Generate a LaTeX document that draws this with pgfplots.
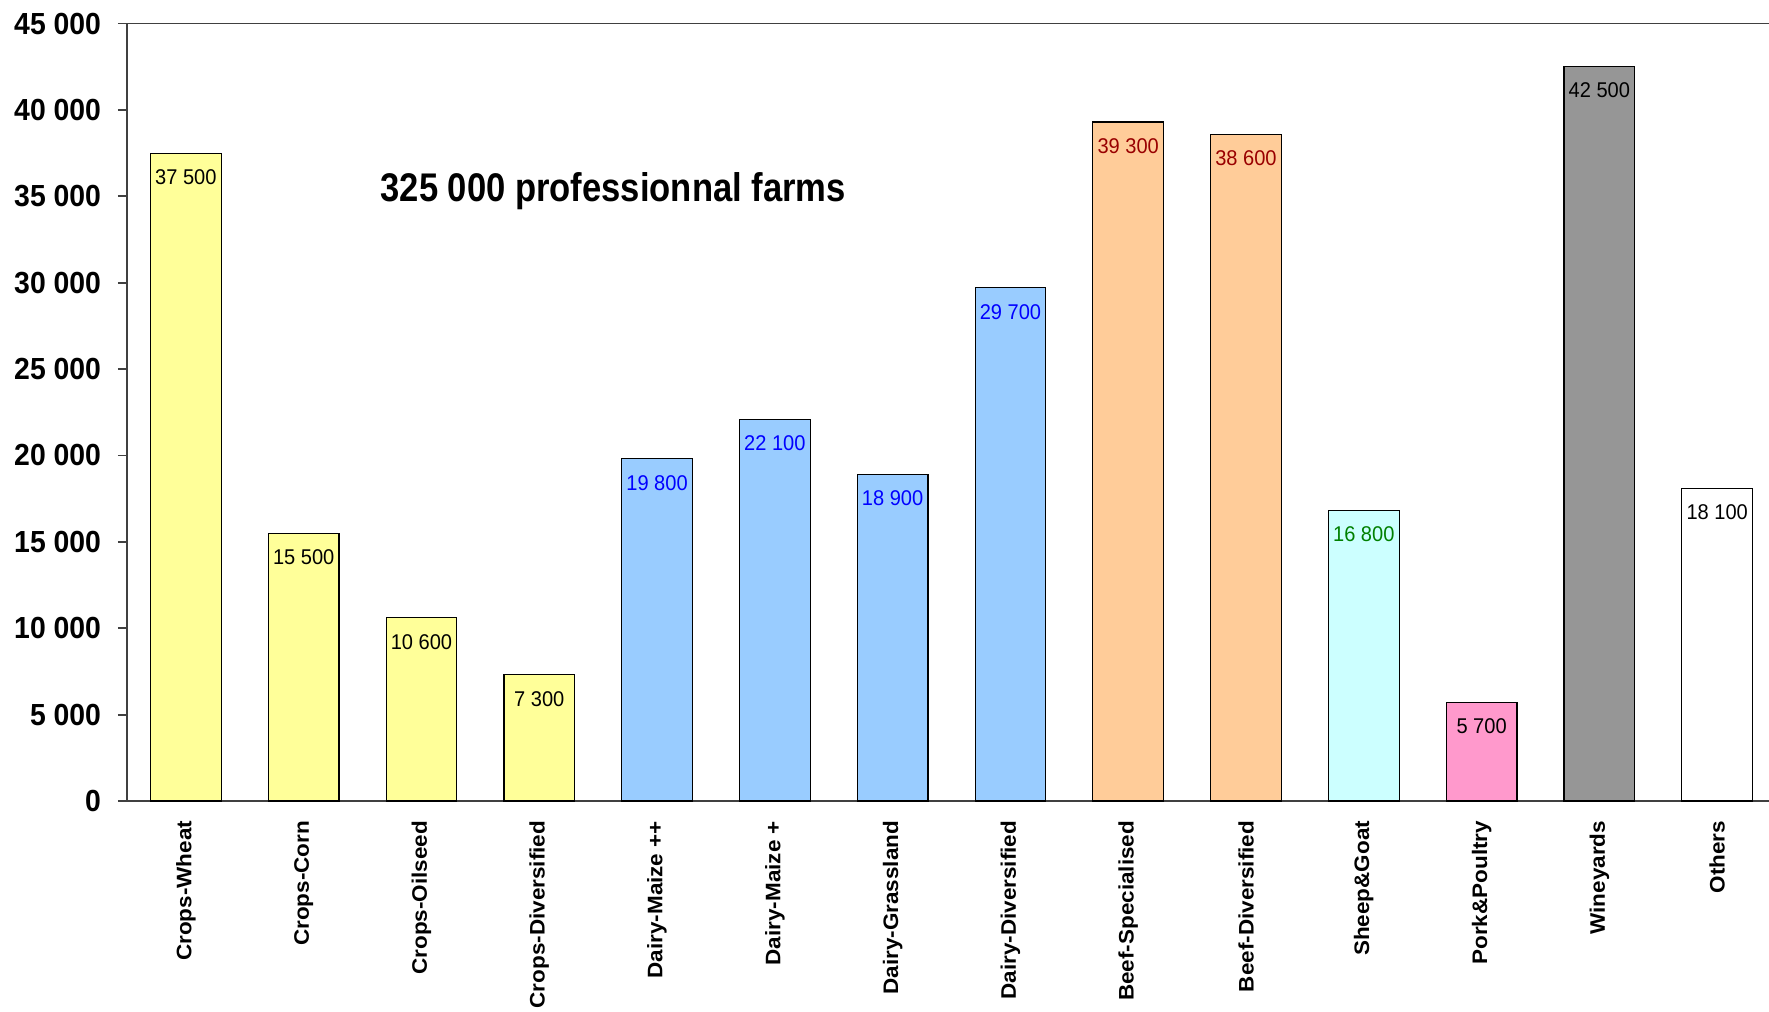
\documentclass[border=0pt]{standalone}
\usepackage{fontspec}
\setmainfont{Liberation Sans}
\newfontfamily\tickfont{Liberation Sans}[FakeStretch=0.93]
\newfontfamily\valfont{Liberation Sans}[FakeStretch=0.94]
\newfontfamily\titlefont{Liberation Sans}[FakeStretch=0.865]
\newfontfamily\catfont{Liberation Sans}[FakeStretch=1.07]
\usepackage{pgfplots}
\pgfplotsset{compat=1.18}

\definecolor{cropY}{HTML}{FFFF99}
\definecolor{dairyB}{HTML}{99CCFF}
\definecolor{beefO}{HTML}{FFCC99}
\definecolor{sheepC}{HTML}{CCFFFF}
\definecolor{porkP}{HTML}{FF99CC}
\definecolor{wineG}{HTML}{969696}
\definecolor{lblRed}{HTML}{990000}
\definecolor{lblGreen}{HTML}{008000}
\definecolor{axisgray}{HTML}{404040}

\begin{document}
\begin{tikzpicture}
\begin{axis}[
    scale only axis,
    width=492.6pt,
    height=233.25pt,
    ybar,
    bar width=0.6,
    bar shift=0pt,
    xmin=-0.5, xmax=13.44,
    ymin=0, ymax=45000,
    enlargelimits=false,
    axis x line*=bottom,
    axis y line*=left,
    axis line style={axisgray, line width=0.55pt},
    tick style={axisgray, line width=0.55pt},
    ytick={0,5000,...,45000},
    xtick={0,...,13},
    xticklabels={Crops-Wheat, Crops-Corn, Crops-Oilseed, Crops-Diversified,
                 Dairy-Maize ++, Dairy-Maize +, Dairy-Grassland, Dairy-Diversified,
                 Beef-Specialised, Beef-Diversified, {Sheep\&Goat}, {Pork\&Poultry},
                 Wineyards, Others},
    x tick style={draw=none},
    major tick length=2.7pt,
    tick align=outside,
    scaled y ticks=false,
    /pgf/number format/assume math mode=true,
    /pgf/number format/1000 sep={\ },
    yticklabel style={font=\tickfont\bfseries\fontsize{9.15}{10}\selectfont,
                      anchor=east, inner sep=0pt, xshift=-4.9pt},
    xticklabel style={font=\catfont\bfseries\fontsize{6.3}{7}\selectfont,
                      yshift=-3.1pt, rotate=90, anchor=east, inner sep=0pt},
    nodes near coords,
    every node near coord/.append style={anchor=north, inner sep=0pt, yshift=-4.7pt,
                      font=\valfont\fontsize{6.4}{7}\selectfont},
    clip=false,
]
% crops
\addplot[fill=cropY, draw=black, line width=0.35pt] coordinates {
    (0,37500) (1,15500) (2,10600) (3,7300)
};
% dairy
\addplot[fill=dairyB, draw=black, line width=0.35pt,
         every node near coord/.append style={text=blue}] coordinates {
    (4,19800) (5,22100) (6,18900) (7,29700)
};
% beef
\addplot[fill=beefO, draw=black, line width=0.35pt,
         every node near coord/.append style={text=lblRed}] coordinates {
    (8,39300) (9,38600)
};
% sheep & goat
\addplot[fill=sheepC, draw=black, line width=0.35pt,
         every node near coord/.append style={text=lblGreen}] coordinates {
    (10,16800)
};
% pork & poultry
\addplot[fill=porkP, draw=black, line width=0.35pt] coordinates {
    (11,5700)
};
% wineyards
\addplot[fill=wineG, draw=black, line width=0.35pt] coordinates {
    (12,42500)
};
% others
\addplot[fill=white, draw=black, line width=0.35pt] coordinates {
    (13,18100)
};
\draw[axisgray, line width=0.55pt] (rel axis cs:0,1) -- (rel axis cs:1,1);
\node[anchor=base west, inner sep=0pt,
      font=\titlefont\bfseries\fontsize{12}{14}\selectfont]
      at (axis cs:1.647,34720) {325 000 professionnal farms};
\end{axis}
\pgfresetboundingbox
\path (-38.1pt,-63pt) rectangle (492.6pt,240.3pt);
\end{tikzpicture}
\end{document}
